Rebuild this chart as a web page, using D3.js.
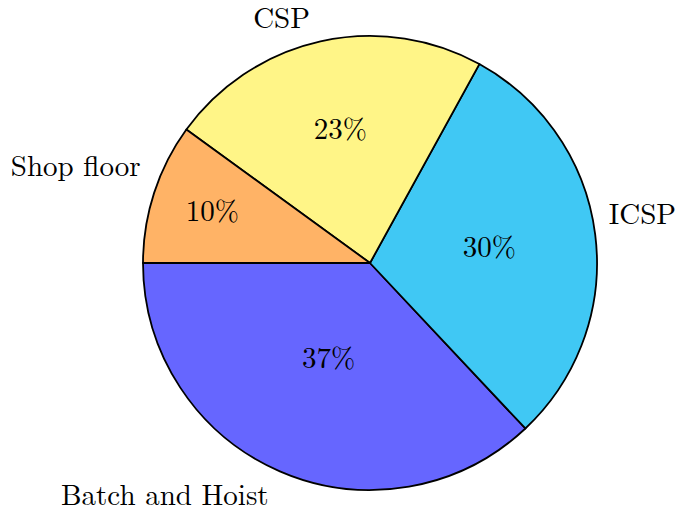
<!DOCTYPE html>
<html>
<head>
<meta charset="utf-8">
<script src="https://cdn.jsdelivr.net/npm/d3@7"></script>
<style>
  body { margin: 0; background: #fff; }
  text { font-family: "Latin Modern Roman", "CMU Serif", "Liberation Serif", serif; fill: #000; }
</style>
</head>
<body>
<div id="chart"></div>
<script>
const width = 675
const height = 510
const center = { x: 370, y: 263 }
const radius = 227
const fontSize = 29

// slices, in drawing order (counterclockwise from the left)
const categories = ['Batch and Hoist', 'ICSP', 'CSP', 'Shop floor']
const shares = [37, 30, 23, 10]
const sliceColors = ['#6666ff', '#40c8f4', '#fff587', '#ffb366']

const data = categories.map((c, i) => ({ name: c, value: shares[i], color: sliceColors[i] }))

const svg = d3.select('#chart').append('svg').attr('width', width).attr('height', height)
const pieGroup = svg.append('g').attr('transform', `translate(${center.x}, ${center.y})`)

// start at 9 o'clock, run counterclockwise
const pie = d3.pie()
  .value(d => d.value)
  .sort(null)
  .startAngle(-Math.PI / 2)
  .endAngle(-Math.PI / 2 - 2 * Math.PI)

const arc = d3.arc().innerRadius(0).outerRadius(radius)
const arcs = pie(data)

pieGroup.selectAll('path')
  .data(arcs)
  .enter()
  .append('path')
  .attr('d', arc)
  .attr('fill', d => d.data.color)
  .attr('stroke', '#000')
  .attr('stroke-width', 1.8)
  .attr('stroke-linejoin', 'round')

const midAngle = d => (d.startAngle + d.endAngle) / 2
const total = d3.sum(shares)

// percentages inside, pushed outward for the smaller slices
pieGroup.selectAll('text.pct')
  .data(arcs)
  .enter()
  .append('text')
  .attr('class', 'pct')
  .attr('x', d => Math.sin(midAngle(d)) * radius * (0.83 - d.data.value / total))
  .attr('y', d => -Math.cos(midAngle(d)) * radius * (0.83 - d.data.value / total))
  .attr('dy', '0.3em')
  .attr('text-anchor', 'middle')
  .attr('font-size', fontSize)
  .text(d => `${d.data.value}%`)

// names outside: the box corner facing the pie sits on the mid-angle point
const labelRadius = radius + 4
const innerSep = fontSize / 3
const ascent = 0.69 * fontSize
const depth = s => /[gjpqy]/.test(s) ? 0.194 * fontSize : 0

pieGroup.selectAll('text.name')
  .data(arcs)
  .enter()
  .append('text')
  .attr('class', 'name')
  .attr('x', d => {
    const px = Math.sin(midAngle(d)) * labelRadius
    return px > 0 ? px + innerSep : px - innerSep
  })
  .attr('y', d => {
    const py = -Math.cos(midAngle(d)) * labelRadius
    return py < 0 ? py - innerSep - depth(d.data.name) : py + innerSep + ascent
  })
  .attr('text-anchor', d => Math.sin(midAngle(d)) > 0 ? 'start' : 'end')
  .attr('font-size', fontSize)
  .text(d => d.data.name)
</script>
</body>
</html>
